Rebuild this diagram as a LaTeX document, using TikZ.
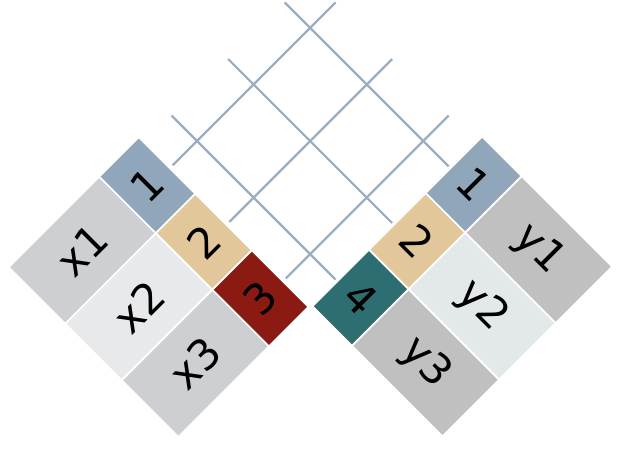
\documentclass[tikz,border=0pt]{standalone}
\usepackage{fontspec}
\setmainfont{DejaVu Sans}
\definecolor{hdrblue}{HTML}{8FA6BB}
\definecolor{hdrtan}{HTML}{E2C79A}
\definecolor{hdrred}{HTML}{8A1A12}
\definecolor{hdrteal}{HTML}{2E6E73}
\definecolor{xdark}{HTML}{CDCFD2}
\definecolor{xlight}{HTML}{E8E9EB}
\definecolor{ydark}{HTML}{C0C0C0}
\definecolor{ylight}{HTML}{E3E8EB}
\definecolor{gridblue}{HTML}{9BADC0}
\tikzset{
  cell/.style={draw=white,line width=1.2pt,inner sep=0pt,font=\fontsize{30}{36}\selectfont},
  hdr/.style={cell,minimum width=1.4cm,minimum height=2cm},
  lbl/.style={cell,minimum width=3.2cm,minimum height=2cm},
  gridline/.style={draw=gridblue,line width=1.6pt}
}
\begin{document}
\begin{tikzpicture}[x={(1.4142cm,-1.4142cm)},y={(1.4142cm,1.4142cm)}]
      \useasboundingbox (-7.754cm,-4.921cm) rectangle (7.846cm,6.354cm);

      % grid
      \draw[gridline] (-2.45,0) -- (0.45,0);
      \draw[gridline] (-2.45,1) -- (0.45,1);
      \draw[gridline] (-2.45,2) -- (0.45,2);
      \draw[gridline] (-2,-0.43) -- (-2,2.45);
      \draw[gridline] (-1,-0.43) -- (-1,2.45);
      \draw[gridline] (0,-0.43) -- (0,2.45);

      % left side
      \node[hdr,fill=hdrblue,rotate=45] (a1) at (-2.05,-0.83) {1};
      \node[hdr,fill=hdrtan,rotate=45] (a2) at (-1.05,-0.83) {2};
      \node[hdr,fill=hdrred,rotate=45] (a3) at (-0.05,-0.83) {3};
      \node[lbl,fill=xdark,rotate=45] (x1) at (-2.05,-1.98) {x1};
      \node[lbl,fill=xlight,rotate=45] (x2) at (-1.05,-1.98) {x2};
      \node[lbl,fill=xdark,rotate=45] (x3) at (-0.05,-1.98) {x3};

      % right side
      \node[hdr,fill=hdrblue,rotate=-45] (b1) at (0.83,2.06) {1};
      \node[hdr,fill=hdrtan,rotate=-45] (b2) at (0.83,1.06) {2};
      \node[hdr,fill=hdrteal,rotate=-45] (b4) at (0.83,0.06) {4};
      \node[lbl,fill=ydark,rotate=-45] (y1) at (1.98,2.06) {y1};
      \node[lbl,fill=ylight,rotate=-45] (y2) at (1.98,1.06) {y2};
      \node[lbl,fill=ydark,rotate=-45] (y3) at (1.98,0.06) {y3};
    \end{tikzpicture}
\end{document}
